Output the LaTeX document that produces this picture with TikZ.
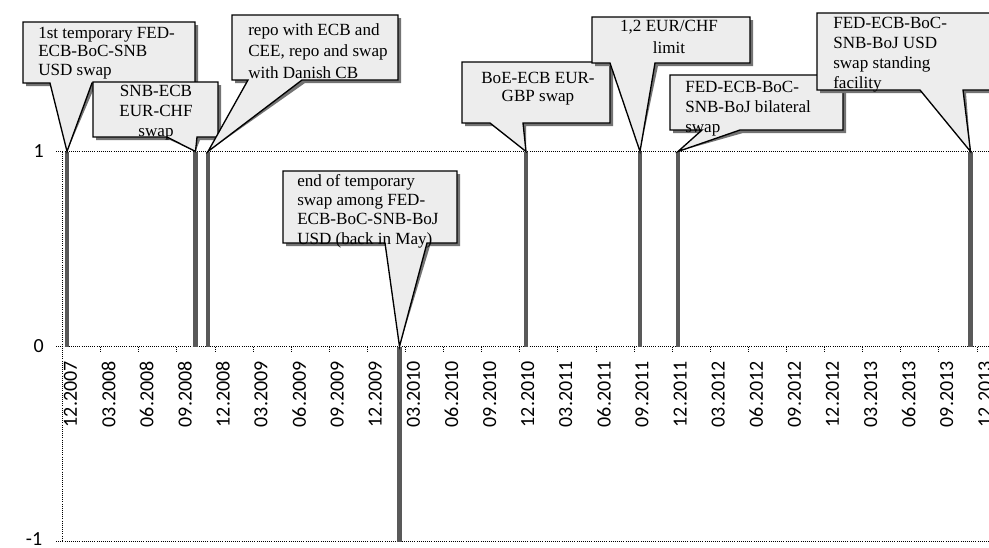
\documentclass[tikz,border=0pt]{standalone}
\usepackage{fontspec}
\setmainfont{Liberation Serif}
\newfontfamily\axisfont{Carlito}

% callout box: corners (#1,#2)-(#3,#4), pointer base from #5 to #6 on the lower edge, tip at coordinate #7
\newcommand{\calloutshape}[7]{%
  \fill[callshadow, shift={(3,3)}] (#1,#2) -- (#3,#2) -- (#3,#4) -- (#6,#4) -- (#7) -- (#5,#4) -- (#1,#4) -- cycle;
  \filldraw[callbox] (#1,#2) -- (#3,#2) -- (#3,#4) -- (#6,#4) -- (#7) -- (#5,#4) -- (#1,#4) -- cycle;}

\begin{document}
\begin{tikzpicture}[x=0.75pt,y=0.75pt,yscale=-1,xscale=1,
  gridline/.style={densely dotted, line width=0.6pt},
  eventbar/.style={draw=black!65, line width=3.6pt},
  callshadow/.style={fill=black!55},
  callbox/.style={fill=black!7, draw=black, line width=1pt, line join=miter},
  calltext/.style={inner sep=0pt, font=\fontsize{12.8}{13.8}\selectfont},
  datelbl/.style={rotate=90, anchor=east, inner sep=0pt, font=\axisfont\fontsize{15}{15}\selectfont},
  vallbl/.style={anchor=east, inner sep=0pt, font=\axisfont\fontsize{15}{15}\selectfont}]
\useasboundingbox (0,0) rectangle (989,547);

%Coordinates: levels and events
\coordinate (lvlzero) at (0,346.5);
\coordinate (lvlminus) at (0,541.5);
\coordinate (evA) at (67,151.5);
\coordinate (evB) at (195.5,151.5);
\coordinate (evC) at (208,151.5);
\coordinate (evD) at (399.5,346.5);
\coordinate (evE) at (526,151.5);
\coordinate (evF) at (640,151.5);
\coordinate (evG) at (678,151.5);
\coordinate (evH) at (970.5,151.5);

%Straight Lines: grid and axis
\draw [gridline] (56,151.5) -- (989,151.5) ;
\draw [gridline] (56,346.5) -- (989,346.5) ;
\draw [gridline] (56,541.5) -- (989,541.5) ;
\draw [gridline] (62.5,151.5) -- (62.5,541.5) ;
%Straight Lines: ticks
\draw [gridline] (100.6,346.5) -- ++(0,6) (138.7,346.5) -- ++(0,6) (176.8,346.5) -- ++(0,6) (214.9,346.5) -- ++(0,6)
  (253,346.5) -- ++(0,6) (291.1,346.5) -- ++(0,6) (329.2,346.5) -- ++(0,6) (367.3,346.5) -- ++(0,6)
  (405.4,346.5) -- ++(0,6) (443.5,346.5) -- ++(0,6) (481.6,346.5) -- ++(0,6) (519.7,346.5) -- ++(0,6)
  (557.8,346.5) -- ++(0,6) (595.9,346.5) -- ++(0,6) (634,346.5) -- ++(0,6) (672.1,346.5) -- ++(0,6)
  (710.2,346.5) -- ++(0,6) (748.3,346.5) -- ++(0,6) (786.4,346.5) -- ++(0,6) (824.5,346.5) -- ++(0,6)
  (862.6,346.5) -- ++(0,6) (900.7,346.5) -- ++(0,6) (938.8,346.5) -- ++(0,6) (976.9,346.5) -- ++(0,6) ;

%Text Node: value axis
\node [vallbl] (vone) at (44,151.5) {1};
\node [vallbl] (vzero) at (44,346.5) {0};
\node [vallbl] (vminus) at (42.5,539.5) {-1};

%Text Node: date axis
\node [datelbl] (q0) at (70.5,361) {12.2007};
\node [datelbl] (q1) at (108.6,361) {03.2008};
\node [datelbl] (q2) at (146.7,361) {06.2008};
\node [datelbl] (q3) at (184.8,361) {09.2008};
\node [datelbl] (q4) at (222.9,361) {12.2008};
\node [datelbl] (q5) at (261,361) {03.2009};
\node [datelbl] (q6) at (299.1,361) {06.2009};
\node [datelbl] (q7) at (337.2,361) {09.2009};
\node [datelbl] (q8) at (375.3,361) {12.2009};
\node [datelbl] (q9) at (413.4,361) {03.2010};
\node [datelbl] (q10) at (451.5,361) {06.2010};
\node [datelbl] (q11) at (489.6,361) {09.2010};
\node [datelbl] (q12) at (527.7,361) {12.2010};
\node [datelbl] (q13) at (565.8,361) {03.2011};
\node [datelbl] (q14) at (603.9,361) {06.2011};
\node [datelbl] (q15) at (642,361) {09.2011};
\node [datelbl] (q16) at (680.1,361) {12.2011};
\node [datelbl] (q17) at (718.2,361) {03.2012};
\node [datelbl] (q18) at (756.3,361) {06.2012};
\node [datelbl] (q19) at (794.4,361) {09.2012};
\node [datelbl] (q20) at (832.5,361) {12.2012};
\node [datelbl] (q21) at (870.6,361) {03.2013};
\node [datelbl] (q22) at (908.7,361) {06.2013};
\node [datelbl] (q23) at (946.8,361) {09.2013};
\node [datelbl] (q24) at (984.9,361) {12.2013};

%Straight Lines: event bars
\draw [eventbar] (evA) -- (evA |- lvlzero) ;
\draw [eventbar] (evB) -- (evB |- lvlzero) ;
\draw [eventbar] (evC) -- (evC |- lvlzero) ;
\draw [eventbar] (evD) -- (evD |- lvlminus) ;
\draw [eventbar] (evE) -- (evE |- lvlzero) ;
\draw [eventbar] (evF) -- (evF |- lvlzero) ;
\draw [eventbar] (evG) -- (evG |- lvlzero) ;
\draw [eventbar] (evH) -- (evH |- lvlzero) ;

%Shape: Callouts
\calloutshape{23}{22}{195}{83}{50}{92}{evA}
\node [calltext, anchor=north west, align=left] (fedfirst) at (38,27) {1st temporary FED-\\ECB-BoC-SNB\\USD swap};
\calloutshape{93}{82}{218}{137}{167}{197}{evB}
\node [calltext, anchor=north, align=center, font=\fontsize{12.8}{15}\selectfont] (snbecb) at (156,85) {SNB-ECB\\EUR-CHF\\swap};
\calloutshape{232}{15}{398}{80}{248}{302}{evC}
\node [calltext, anchor=north west, align=left, font=\fontsize{12.8}{16.2}\selectfont] (repo) at (248,23) {repo with ECB and\\CEE, repo and swap\\with Danish CB};
\calloutshape{283}{171}{457}{243}{385}{427}{evD}
\node [calltext, anchor=north west, align=left, font=\fontsize{12.8}{14.5}\selectfont] (endswap) at (297,174) {end of temporary\\swap among FED-\\ECB-BoC-SNB-BoJ\\USD (back in May)};
\calloutshape{462}{62}{610}{123}{490}{523}{evE}
\node [calltext, anchor=north, align=center] (boeecb) at (538,72) {BoE-ECB EUR-\\GBP swap};
\calloutshape{592}{17}{750}{63}{610}{655}{evF}
\node [calltext, anchor=north, align=center, font=\fontsize{12.8}{16.3}\selectfont] (chflimit) at (669,20) {1,2 EUR/CHF\\limit};
\calloutshape{670}{75}{843}{130}{702}{740}{evG}
\node [calltext, anchor=north west, align=left, font=\fontsize{12.8}{15}\selectfont] (bilateral) at (685,81) {FED-ECB-BoC-\\SNB-BoJ bilateral\\swap};
\calloutshape{817}{13}{1000}{90}{920}{963}{evH}
\node [calltext, anchor=north west, align=left, font=\fontsize{12.8}{15}\selectfont] (standing) at (833,17) {FED-ECB-BoC-\\SNB-BoJ USD\\swap standing\\facility};

\end{tikzpicture}
\end{document}
